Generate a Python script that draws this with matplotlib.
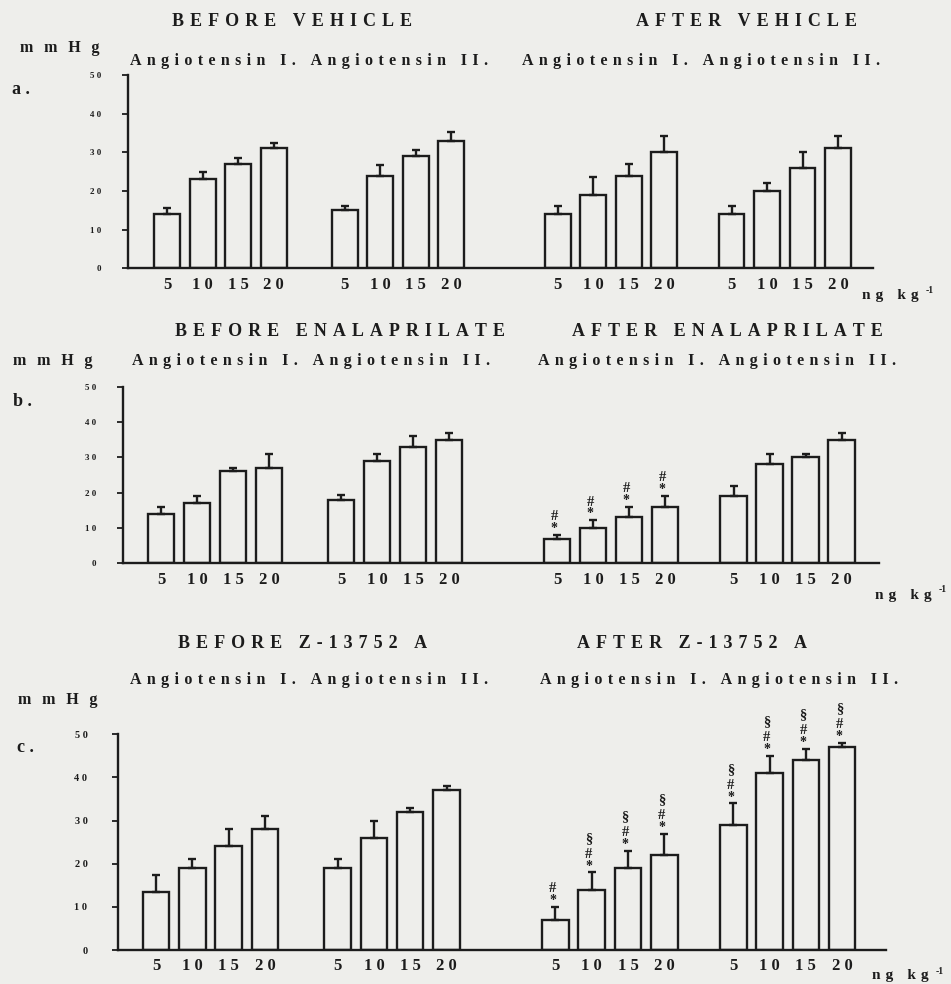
import matplotlib
matplotlib.use("Agg")
import matplotlib.pyplot as plt

# ---- data (mmHg, mean and SEM) ----
doses = [5, 10, 15, 20]
y_ticks = [0, 10, 20, 30, 40, 50]

# panel a: vehicle
a_before_ang1 = [14, 23, 27, 31]
a_before_ang1_err = [1.7, 1.8, 1.6, 1.5]
a_before_ang2 = [15, 24, 29, 33]
a_before_ang2_err = [1.0, 2.7, 1.6, 2.2]
a_after_ang1 = [14, 19, 24, 30]
a_after_ang1_err = [2.0, 4.6, 3.1, 4.1]
a_after_ang2 = [14, 20, 26, 31]
a_after_ang2_err = [2.0, 2.0, 4.1, 3.1]

# panel b: enalaprilate
b_before_ang1 = [14, 17, 26, 27]
b_before_ang1_err = [2.0, 2.0, 1.0, 4.0]
b_before_ang2 = [18, 29, 33, 35]
b_before_ang2_err = [1.2, 2.0, 3.0, 2.0]
b_after_ang1 = [7, 10, 13, 16]
b_after_ang1_err = [1.0, 2.2, 3.0, 3.1]
b_after_ang2 = [19, 28, 30, 35]
b_after_ang2_err = [3.0, 3.0, 1.0, 2.0]

# panel c: Z-13752 A
c_before_ang1 = [13.5, 19, 24, 28]
c_before_ang1_err = [4.0, 2.0, 4.0, 3.0]
c_before_ang2 = [19, 26, 32, 37]
c_before_ang2_err = [2.0, 4.0, 1.0, 1.0]
c_after_ang1 = [7, 14, 19, 22]
c_after_ang1_err = [3.0, 4.0, 4.0, 5.0]
c_after_ang2 = [29, 41, 44, 47]
c_after_ang2_err = [5.0, 4.0, 2.7, 1.0]

# significance symbols, listed bottom to top
b_after_ang1_sig = ["*#", "*#", "*#", "*#"]
c_after_ang1_sig = ["*#", "*#§", "*#§", "*#§"]
c_after_ang2_sig = ["*#§", "*#§", "*#§", "*#§"]

panel_letters = ["a", "b", "c"]
before_titles = ["BEFORE VEHICLE", "BEFORE ENALAPRILATE", "BEFORE Z-13752 A"]
after_titles = ["AFTER VEHICLE", "AFTER ENALAPRILATE", "AFTER Z-13752 A"]
subtitle = "Angiotensin I. Angiotensin II."
y_unit = "mmHg"
x_unit = "ng kg"

# ---- styling ----
W, H = 951, 984
BG = "#eeeeeb"
INK = "#1c1c1c"
FONT = "Liberation Serif"
GAP = "\u2004"  # three-per-em space for letter-spaced typesetting


def spaced(s, gap=" "):
    return gap.join(s)


def fx(x):
    return x / W


def fy(y):
    return 1 - y / H


fig = plt.figure(figsize=(W / 100, H / 100), dpi=100, facecolor=BG)


def ftext(x, y, s, size, ha="left", va="center"):
    fig.text(fx(x), fy(y), s, fontsize=size, ha=ha, va=va, family=FONT,
             weight="bold", color=INK)


group_offsets = [0, 5, 11, 15.9]
bar_w = 0.73
sig_offsets = {"*": 4.5, "#": 13.0, "§": 24.5}


def draw_panel(geom, groups, sigs, ytick_size, ypad):
    left, right, y0, y50, step, first = geom
    ax = fig.add_axes([fx(left), fy(y0), fx(right - left), (y0 - y50) / H])
    ax.set_facecolor(BG)
    span = (right - left) / step
    ax.set_xlim(-first, span - first)
    ax.set_ylim(0, 50)
    ticks_x, labels_x = [], []
    for gi, (vals, errs) in enumerate(groups):
        xs = [group_offsets[gi] + i for i in range(len(doses))]
        ax.bar(xs, vals, width=bar_w, facecolor=BG, edgecolor=INK,
               linewidth=1.7, zorder=2)
        ax.errorbar(xs, vals, yerr=[[0] * len(errs), errs], fmt="none",
                    ecolor=INK, elinewidth=1.7, capsize=2.6, capthick=1.7,
                    zorder=3)
        ticks_x += xs
        labels_x += [spaced(str(d)) for d in doses]
        if gi in sigs:
            for x, v, e, marks in zip(xs, vals, errs, sigs[gi]):
                for m in marks:
                    ax.annotate(m, (x, v + e), xytext=(-2, sig_offsets[m]),
                                textcoords="offset points", ha="center",
                                va="center", fontsize=10.5 if m != "*" else 10,
                                family=FONT, weight="bold", color=INK,
                                annotation_clip=False)
    for s in ["top", "right"]:
        ax.spines[s].set_visible(False)
    for s in ["left", "bottom"]:
        ax.spines[s].set_color(INK)
        ax.spines[s].set_linewidth(1.7)
    ax.set_yticks(y_ticks)
    ax.set_yticklabels([spaced(str(t)) for t in y_ticks], fontsize=ytick_size,
                       family=FONT, weight="bold", color=INK)
    ax.tick_params(axis="y", length=4, width=1.3, color=INK, pad=ypad)
    ax.set_xticks(ticks_x)
    ax.set_xticklabels(labels_x, fontsize=12, family=FONT, weight="bold",
                       color=INK)
    ax.tick_params(axis="x", length=0, pad=6)
    return ax


# panel a
draw_panel((128, 873, 268.3, 75, 35.5, 1.1),
           [(a_before_ang1, a_before_ang1_err), (a_before_ang2, a_before_ang2_err),
            (a_after_ang1, a_after_ang1_err), (a_after_ang2, a_after_ang2_err)],
           {}, 6.5, 15)
# panel b
draw_panel((123, 879, 563.3, 386.7, 36.0, 1.06),
           [(b_before_ang1, b_before_ang1_err), (b_before_ang2, b_before_ang2_err),
            (b_after_ang1, b_after_ang1_err), (b_after_ang2, b_after_ang2_err)],
           {2: b_after_ang1_sig}, 6.5, 15)
# panel c
draw_panel((118, 886, 950, 734.3, 36.3, 1.05),
           [(c_before_ang1, c_before_ang1_err), (c_before_ang2, c_before_ang2_err),
            (c_after_ang1, c_after_ang1_err), (c_after_ang2, c_after_ang2_err)],
           {2: c_after_ang1_sig, 3: c_after_ang2_sig}, 7.5, 18)

# headings and labels (pixel positions)
title_pos = [(292, 747, 22), (340, 727, 331), (303, 692, 643)]
sub_pos = [(130, 522, 61), (132, 538, 361), (130, 540, 680)]
unit_pos = [(20, 48), (13, 361), (18, 700)]
letter_pos = [(12, 89), (13, 402), (17, 747)]
ngkg_pos = [(862, 296), (875, 595), (872, 976)]

for i in range(3):
    tb, ta, ty = title_pos[i]
    ftext(tb, ty, spaced(before_titles[i], GAP), 13, ha="center")
    ftext(ta, ty, spaced(after_titles[i], GAP), 13, ha="center")
    sl, sr, sy = sub_pos[i]
    ftext(sl, sy, spaced(subtitle, GAP), 11.5)
    ftext(sr, sy, spaced(subtitle, GAP), 11.5)
    ux, uy = unit_pos[i]
    ftext(ux, uy, spaced(y_unit, GAP + GAP), 11.5)
    lx, ly = letter_pos[i]
    ftext(lx, ly, spaced(panel_letters[i] + "."), 13)
    nx, ny = ngkg_pos[i]
    ftext(nx, ny, spaced(x_unit, GAP), 11)
    ftext(nx + 64, ny - 5, "-1", 7)

fig.savefig("out.png", dpi=100, facecolor=BG)
